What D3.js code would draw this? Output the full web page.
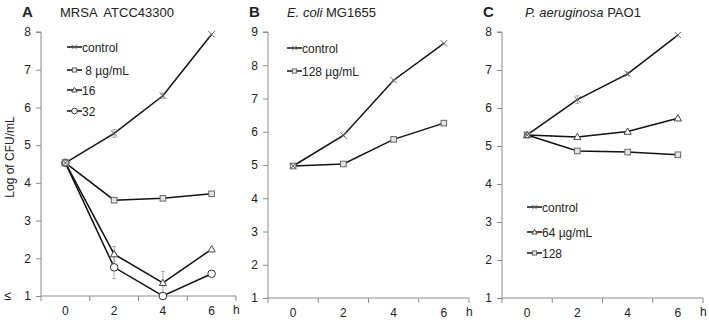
<!DOCTYPE html>
<html lang="en">
<head>
    <meta charset="UTF-8">
    <title>Time-kill curves</title>
    <script src="https://cdn.jsdelivr.net/npm/d3@7"></script>
    <style>
        body { margin: 0; background: #fff; }
        svg text { font-family: "Liberation Sans", Arial, sans-serif; fill: #222; }
    </style>
</head>
<body>
<svg id="chart" width="709" height="327"></svg>
<script>
    // time points (h)
    const hours = ["0", "2", "4", "6"];

    // Panel A - MRSA ATCC43300
    const mrsaControl = [4.53, 5.31, 6.31, 7.94];
    const mrsa8 = [4.53, 3.54, 3.59, 3.71];
    const mrsa16 = [4.53, 2.11, 1.35, 2.24];
    const mrsa32 = [4.53, 1.76, 1.0, 1.59];
    const mrsaControlErr = [0, 0.1, 0.07, 0];
    const mrsa16Err = [0, 0.2, 0.3, 0];
    const mrsa32Err = [0, 0.3, 0, 0];

    // Panel B - E. coli MG1655
    const ecoliControl = [4.97, 5.89, 7.55, 8.66];
    const ecoli128 = [4.97, 5.03, 5.77, 6.26];

    // Panel C - P. aeruginosa PAO1
    const paoControl = [5.29, 6.22, 6.9, 7.92];
    const pao64 = [5.29, 5.24, 5.38, 5.73];
    const pao128 = [5.29, 4.87, 4.84, 4.77];
    const paoControlErr = [0, 0.1, 0.05, 0];

    const yTicksA = [1, 2, 3, 4, 5, 6, 7, 8];
    const yTicksB = [1, 2, 3, 4, 5, 6, 7, 8, 9];
    const yTicksC = [1, 2, 3, 4, 5, 6, 7, 8];

    const panels = [
        {letter: "A", title: [["MRSA  ATCC43300", false]], left: 41, right: 236, top: 32, bottom: 296,
         ymax: 8, yticks: yTicksA, tx: 60, legX: 67, legY: [47, 70, 90, 111],
         series: [
            {name: "control", values: mrsaControl, err: mrsaControlErr, marker: "x"},
            {name: " 8 µg/mL", values: mrsa8, marker: "square"},
            {name: "16", values: mrsa16, err: mrsa16Err, marker: "triangle"},
            {name: "32", values: mrsa32, err: mrsa32Err, marker: "circle"}
         ]},
        {letter: "B", title: [["E. coli", true], [" MG1655", false]], left: 268, right: 469, top: 32, bottom: 298,
         ymax: 9, yticks: yTicksB, tx: 287, legX: 287, legY: [48, 71],
         series: [
            {name: "control", values: ecoliControl, marker: "x"},
            {name: "128 µg/mL", values: ecoli128, marker: "square"}
         ]},
        {letter: "C", title: [["P. aeruginosa", true], [" PAO1", false]], left: 502, right: 703, top: 32, bottom: 298,
         ymax: 8, yticks: yTicksC, tx: 525, legX: 527, legY: [207, 232, 253],
         series: [
            {name: "control", values: paoControl, err: paoControlErr, marker: "x"},
            {name: "64 µg/mL", values: pao64, marker: "triangle"},
            {name: "128", values: pao128, marker: "square"}
         ]}
    ];

    const svg = d3.select("#chart");
    const axisColor = "#8a8a8a";
    const markColor = "#666";

    function drawMarker(g, type, cx, cy, small) {
        const s = small ? 0.75 : 1;
        if (type === "x") {
            const r = 3.2 * s;
            g.append("path")
             .attr("d", `M${cx - r},${cy - r}L${cx + r},${cy + r}M${cx - r},${cy + r}L${cx + r},${cy - r}`)
             .attr("stroke", markColor).attr("stroke-width", 1).attr("fill", "none");
        } else if (type === "square") {
            const r = 2.8 * s;
            g.append("rect")
             .attr("x", cx - r).attr("y", cy - r).attr("width", 2 * r).attr("height", 2 * r)
             .attr("fill", "#e4e4e4").attr("stroke", markColor).attr("stroke-width", 1);
        } else if (type === "triangle") {
            const r = 3.6 * s;
            g.append("path")
             .attr("d", `M${cx},${cy - r}L${cx + r},${cy + r * 0.75}L${cx - r},${cy + r * 0.75}Z`)
             .attr("fill", "#fff").attr("stroke", "#444").attr("stroke-width", 1);
        } else if (type === "circle") {
            g.append("circle")
             .attr("cx", cx).attr("cy", cy).attr("r", 3.8 * s)
             .attr("fill", "#fff").attr("stroke", "#333").attr("stroke-width", 1);
        }
    }

    panels.forEach(p => {
        const g = svg.append("g");

        const x = d3.scaleBand().domain(hours).range([p.left, p.right]).padding(0);
        const y = d3.scaleLinear().domain([1, p.ymax]).range([p.bottom, p.top]);

        // title
        g.append("text").attr("x", p.left - 19).attr("y", 17)
         .attr("font-size", "15px").attr("font-weight", "bold").attr("fill", "#111").text(p.letter);
        const t = g.append("text").attr("x", p.tx).attr("y", 17).attr("font-size", "13px");
        p.title.forEach(([s, it]) => t.append("tspan").attr("font-style", it ? "italic" : "normal")
            .attr("xml:space", "preserve").text(s));

        // y axis
        const yAxis = g.append("g").attr("transform", `translate(${p.left},0)`)
            .call(d3.axisLeft(y).tickValues(p.yticks).tickFormat(d3.format("d")).tickSize(5).tickPadding(5));
        yAxis.select(".domain").attr("stroke", axisColor).attr("d", `M-5,${p.top}H0V${p.bottom}`);
        yAxis.selectAll(".tick line").attr("stroke", axisColor);
        yAxis.selectAll(".tick text").attr("font-size", "12px").attr("fill", "#222")
             .style("font-family", "'Liberation Sans', Arial, sans-serif");

        // x axis: labels at band centres, ticks at band edges
        const xAxis = g.append("g").attr("transform", `translate(0,${p.bottom})`)
            .call(d3.axisBottom(x).tickSize(0).tickPadding(10));
        xAxis.select(".domain").attr("stroke", axisColor).attr("d", `M${p.left},0H${p.right}`);
        xAxis.selectAll(".tick text").attr("font-size", "12px").attr("fill", "#222")
             .style("font-family", "'Liberation Sans', Arial, sans-serif");
        const edges = hours.map(h => x(h)).concat([p.right]);
        xAxis.selectAll(".edge").data(edges).enter().append("line")
             .attr("x1", d => d).attr("x2", d => d).attr("y1", 0).attr("y2", 5)
             .attr("stroke", axisColor);
        g.append("text").attr("x", p.right - 3).attr("y", p.bottom + 18)
         .attr("font-size", "12px").text("h");

        const cx = h => x(h) + x.bandwidth() / 2;
        const line = d3.line().x((d, i) => cx(hours[i])).y(d => y(d));

        // error bars
        p.series.forEach(s => {
            if (!s.err) return;
            s.values.forEach((v, i) => {
                const e = s.err[i];
                if (!e) return;
                const xx = cx(hours[i]);
                g.append("path")
                 .attr("d", `M${xx},${y(v - e)}V${y(v + e)}M${xx - 2},${y(v - e)}H${xx + 2}M${xx - 2},${y(v + e)}H${xx + 2}`)
                 .attr("stroke", "#aaa").attr("stroke-width", 1).attr("fill", "none");
            });
        });

        // lines (draw later series first so control sits on top)
        p.series.slice().reverse().forEach(s => {
            g.append("path").datum(s.values)
             .attr("fill", "none").attr("stroke", "#111").attr("stroke-width", 1.5)
             .attr("d", line);
        });
        p.series.slice().reverse().forEach(s => {
            s.values.forEach((v, i) => drawMarker(g, s.marker, cx(hours[i]), y(v), false));
        });

        // legend
        p.series.forEach((s, i) => {
            const ly = p.legY[i];
            g.append("line").attr("x1", p.legX).attr("x2", p.legX + 15)
             .attr("y1", ly).attr("y2", ly).attr("stroke", "#111").attr("stroke-width", 1.5);
            drawMarker(g, s.marker, p.legX + 7.5, ly, true);
            g.append("text").attr("x", p.legX + 15).attr("y", ly + 4.5)
             .attr("font-size", "12px").attr("xml:space", "preserve").text(s.name);
        });
    });

    // y axis label for panel A
    svg.append("text")
       .attr("transform", "rotate(-90)")
       .attr("x", -157).attr("y", 14)
       .attr("text-anchor", "middle").attr("font-size", "12px")
       .text("Log of CFU/mL");
    svg.append("text").attr("x", 4).attr("y", 300).attr("font-size", "13px").text("≤");
</script>
</body>
</html>
